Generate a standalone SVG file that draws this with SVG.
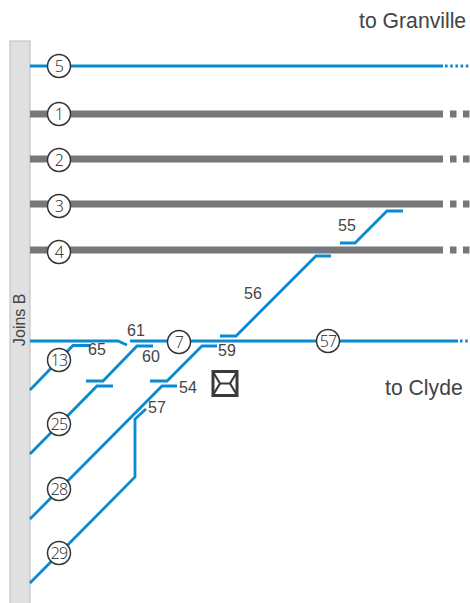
<svg xmlns="http://www.w3.org/2000/svg" width="470" height="603" viewBox="0 0 470 603">
<style>
text{font-family:"Liberation Sans",Arial,sans-serif;fill:#444}
.l{font-size:16px}
.d{font-size:21.200px}
.n{font-size:16px;text-anchor:middle;font-family:"Open Sans","Liberation Sans",sans-serif;font-weight:300;letter-spacing:-.8px;fill:#222}
.b{fill:none;stroke:#0a8ad0;stroke-width:2.8}
.g{fill:none;stroke:#77777b;stroke-width:7}
.c{fill:#fff;stroke:#333;stroke-width:1.5}
</style>
<rect id="bar" x="10" y="41" width="20" height="563" fill="#e0e0e0" stroke="#bbb" stroke-width="1"/>
<text class="l" transform="translate(24.500,346) rotate(-90)">Joins B</text>
<g id="connectors">
<path class="b" d="M30 66H443"/>
<path class="b" d="M445 66H470" stroke-dasharray="2.600 2.600"/>
<path class="g" d="M30 114H443M30 159H443M30 204H443M30 250H443"/>
<path class="g" d="M450 114H470M450 159H470M450 204H470M450 250H470" stroke-dasharray="6.500 6.500"/>
<path class="b" d="M30 341H118L127 345"/>
<path class="b" d="M130 341H458"/>
<path class="b" d="M460 341H470" stroke-dasharray="2.600 2.600"/>
<path class="b" d="M30 390L73 345.500H90"/>
<path class="b" d="M30 454L97 386H113"/>
<path class="b" d="M86 381H103L137 346H153"/>
<path class="b" d="M150 381H167L202 346H217"/>
<path class="b" d="M30 519L162 386H177"/>
<path class="b" d="M30 583L135 477V419L146 409"/>
<path class="b" d="M220 336H236L316 256H331"/>
<path class="b" d="M340 243H355L387 211H403"/>
</g>
<g id="n5"><circle class="c" cx="59" cy="66" r="11.500"/><text class="n" x="59" y="72">5</text></g>
<g id="n1"><circle class="c" cx="59" cy="114" r="11.500"/><text class="n" x="59" y="120">1</text></g>
<g id="n2"><circle class="c" cx="59" cy="160" r="11.500"/><text class="n" x="59" y="166">2</text></g>
<g id="n3"><circle class="c" cx="59" cy="206" r="11.500"/><text class="n" x="59" y="212">3</text></g>
<g id="n4"><circle class="c" cx="59" cy="252" r="11.500"/><text class="n" x="59" y="258">4</text></g>
<g id="n13"><circle class="c" cx="59" cy="360" r="11.500"/><text class="n" x="59" y="366">13</text></g>
<g id="n25"><circle class="c" cx="59" cy="424" r="11.500"/><text class="n" x="59" y="430">25</text></g>
<g id="n28"><circle class="c" cx="59" cy="489" r="11.500"/><text class="n" x="59" y="495">28</text></g>
<g id="n29"><circle class="c" cx="59" cy="553" r="11.500"/><text class="n" x="59" y="559">29</text></g>
<g id="n7"><circle class="c" cx="179" cy="342" r="11.500"/><text class="n" x="179" y="348">7</text></g>
<g id="n57"><circle class="c" cx="328" cy="341" r="11.500"/><text class="n" x="328" y="347">57</text></g>
<g id="labels">
<text class="l" x="127" y="336">61</text>
<text class="l" x="88" y="355">65</text>
<text class="l" x="142" y="362">60</text>
<text class="l" x="218" y="356">59</text>
<text class="l" x="179" y="393">54</text>
<text class="l" x="148" y="413">57</text>
<text class="l" x="244" y="299">56</text>
<text class="l" x="338" y="231">55</text>
<text class="d" x="359" y="28">to Granville</text>
<text class="d" x="385" y="395">to Clyde</text>
</g>
<g id="icon" fill="none" stroke="#3a3a3a">
<rect x="213" y="371.500" width="24" height="24" stroke-width="3"/>
<path d="M213 372L220 383.500H230L237 372M213 395L220 383.500M237 395L230 383.500" stroke-width="2.200"/>
</g>
</svg>
